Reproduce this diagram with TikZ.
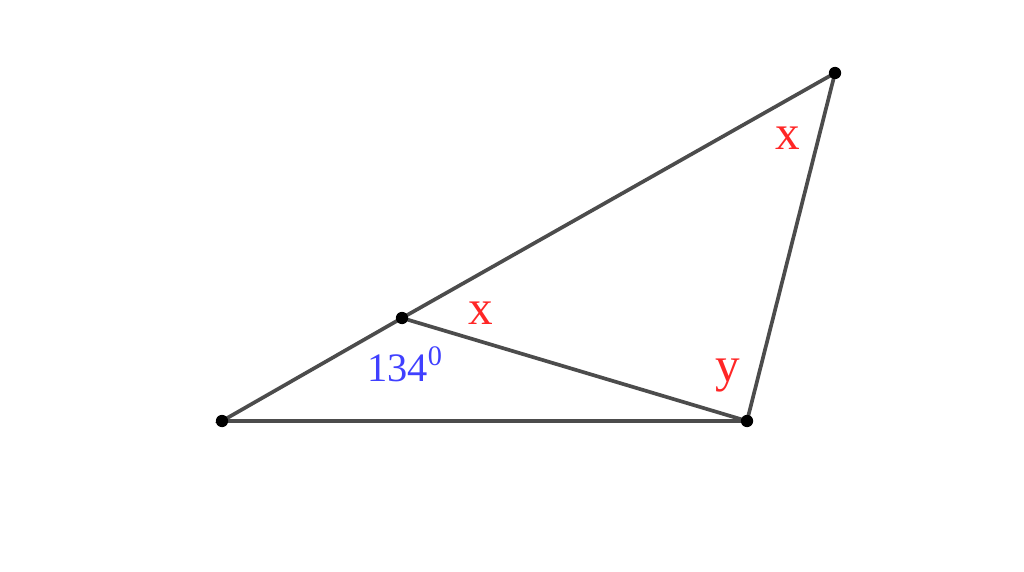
\documentclass[tikz,border=0pt]{standalone}
\usepackage{fontspec}
\setmainfont{Liberation Serif}
\begin{document}
\begin{tikzpicture}
    [side/.style={draw=black!70, line width=2.1pt},
     pt/.style={fill=black, circle, inner sep=0pt, minimum size=7pt},
     ang/.style={text=red!85!white, font=\fontsize{28}{28}\selectfont},
     deg/.style={text=blue!75!white, font=\fontsize{23}{23}\selectfont}]
    \useasboundingbox (0,0) rectangle (20.48,11.42);
    \coordinate (A) at (4.44,3.0);
    \coordinate (B) at (14.94,3.0);
    \coordinate (C) at (16.70,9.96);
    \coordinate (D) at (8.04,5.06);
    \draw[side] (A) -- (B) -- (C) -- (D) -- cycle;
    \draw[side] (D) -- (B);
    \foreach \p in {A,B,C,D} \node[pt] (p\p) at (\p) {};
    \node[ang] (xC) at (15.76,8.66) {x};
    \node[ang] (xD) at (9.62,5.16) {x};
    \node[ang] (yB) at (14.56,3.90) {y};
    \node[deg] (aD) at (8.10,4.14) {134\textsuperscript{0}};
\end{tikzpicture}
\end{document}
